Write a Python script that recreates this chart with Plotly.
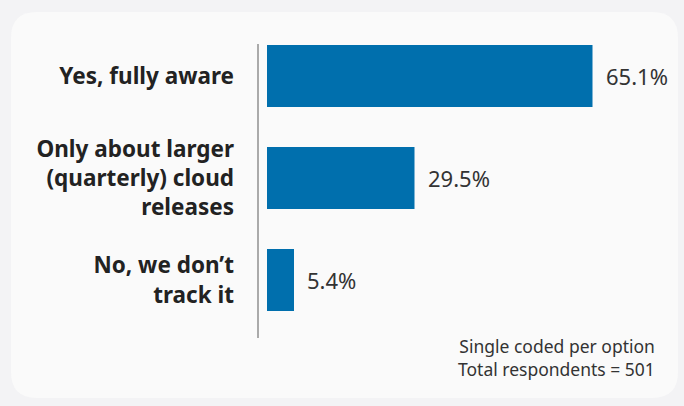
import plotly.graph_objects as go

categories = ["Yes, fully aware", "Only about larger<br>(quarterly) cloud<br>releases", "No, we don’t<br>track it"]
values = [65.1, 29.5, 5.4]
value_labels = ["65.1%", "29.5%", "5.4%"]
footnote = "Single coded per option<br>Total respondents = 501"

W, H = 684, 406
L, R, T, B = 267, 17, 25, 75
PW, PH = W - L - R, H - T - B

def px2paper(px, py):
    return (px - L) / PW, (H - B - py) / PH

def rounded_rect(x0, y0, x1, y1, r):
    def P(x, y):
        a, b = px2paper(x, y)
        return f"{a:.5f},{b:.5f}"
    return (f"M {P(x0 + r, y0)} L {P(x1 - r, y0)} Q {P(x1, y0)} {P(x1, y0 + r)} "
            f"L {P(x1, y1 - r)} Q {P(x1, y1)} {P(x1 - r, y1)} "
            f"L {P(x0 + r, y1)} Q {P(x0, y1)} {P(x0, y1 - r)} "
            f"L {P(x0, y0 + r)} Q {P(x0, y0)} {P(x0 + r, y0)} Z")

FONT = "Noto Sans"

fig = go.Figure()
fig.add_trace(go.Bar(
    y=categories, x=values, orientation="h",
    marker=dict(color="#006fad", line=dict(width=0)),
    width=0.61, hoverinfo="skip",
))

for c, v, t in zip(categories, values, value_labels):
    fig.add_annotation(x=v, y=c, xref="x", yref="y", text=t, showarrow=False,
                       xanchor="left", xshift=11,
                       font=dict(family=FONT, size=22, color="#333333"))

fig.add_annotation(x=px2paper(657, 0)[0], y=px2paper(0, 357)[1], xref="paper", yref="paper",
                   text=footnote, showarrow=False, xanchor="right", yanchor="middle",
                   align="right", font=dict(family=FONT, size=17.5, color="#333333"))

shapes = [
    dict(type="path", xref="paper", yref="paper", path=rounded_rect(11, 12, 678, 398, 26),
         fillcolor="#fafafa", line=dict(width=0), layer="below"),
    dict(type="line", xref="paper", yref="paper",
         x0=px2paper(258, 0)[0], x1=px2paper(258, 0)[0],
         y0=px2paper(0, 44)[1], y1=px2paper(0, 338)[1],
         line=dict(color="#aaaaaa", width=2)),
]

fig.update_layout(
    width=W, height=H,
    margin=dict(l=L, r=R, t=T, b=B),
    paper_bgcolor="#f3f3f5", plot_bgcolor="rgba(0,0,0,0)",
    showlegend=False, shapes=shapes,
    xaxis=dict(range=[0, 80], visible=False, showgrid=False, zeroline=False),
    yaxis=dict(autorange="reversed", showgrid=False, zeroline=False, showline=False,
               ticks="", ticklabelstandoff=32,
               tickfont=dict(family=FONT, size=22.5, color="#222222", weight="bold")),
)

fig.write_html("out.html")
